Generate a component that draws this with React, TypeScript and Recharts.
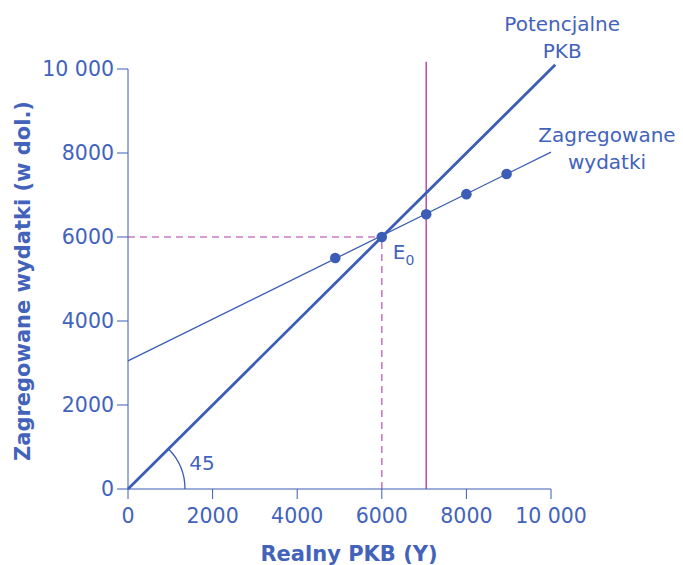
import {
  ComposedChart,
  Customized,
  Line,
  ReferenceDot,
  ReferenceLine,
  Scatter,
  XAxis,
  YAxis,
} from 'recharts';

const BLUE = '#3c5db5';
const TEXT = '#4363bb';
const MAGENTA = '#b44cac';
const MAGENTA_DASH = '#c97bc6';
const FONT = '"DejaVu Sans", sans-serif';

// axis ticks
const xTicks = [0, 2000, 4000, 6000, 8000, 10000];
const yTicks = [0, 2000, 4000, 6000, 8000, 10000];

// 45° line (potential GDP)
const potentialLine = [
  { x: 0, y: 0 },
  { x: 10100, y: 10100 },
];

// aggregate expenditure line + points
const aeLine = [
  { x: 0, y: 3050 },
  { x: 10000, y: 8020 },
];
const aePoints = [
  { x: 4900, y: 5500 },
  { x: 6000, y: 6000 },
  { x: 7050, y: 6540 },
  { x: 8000, y: 7020 },
  { x: 8950, y: 7500 },
];

// equilibrium and potential output
const equilibrium = { x: 6000, y: 6000 };
const potentialY = 7050;
const potentialTop = 10170;

const fmt = (v: number) => (v >= 10000 ? v.toLocaleString('fr-FR').replace(/\u202f|\u00a0/g, ' ') : String(v));

function Titles() {
  return (
    <g fontFamily={FONT} fill={TEXT}>
      <text x={349} y={561} textAnchor="middle" fontSize={21} fontWeight="bold">
        Realny PKB (Y)
      </text>
      <text
        x={0}
        y={0}
        transform="translate(30 281) rotate(-90)"
        textAnchor="middle"
        fontSize={21}
        fontWeight="bold"
      >
        Zagregowane wydatki (w dol.)
      </text>
    </g>
  );
}

function MultiLabel({ viewBox, lines, dx, dy }: any) {
  const cx = (viewBox?.x ?? 0) + dx;
  const cy = (viewBox?.y ?? 0) + dy;
  return (
    <text x={cx} y={cy} textAnchor="middle" fontFamily={FONT} fontSize={20} fill={TEXT}>
      {lines.map((l: string, i: number) => (
        <tspan key={i} x={cx} dy={i === 0 ? 0 : 27}>
          {l}
        </tspan>
      ))}
    </text>
  );
}

export default function App() {
  return (
    <div style={{ position: 'absolute', left: 0, top: 0, width: 683, height: 565, background: '#fff' }}>
      <ComposedChart width={683} height={565} margin={{ top: 69, right: 132, bottom: 36, left: 68 }}>
        <XAxis
          type="number"
          dataKey="x"
          domain={[0, 10000]}
          ticks={xTicks}
          tickFormatter={fmt}
          height={40}
          stroke={BLUE}
          tickSize={10}
          tickMargin={9}
          tick={{ fill: TEXT, fontSize: 20.5, fontFamily: FONT }}
        />
        <YAxis
          type="number"
          dataKey="y"
          domain={[0, 10000]}
          ticks={yTicks}
          tickFormatter={fmt}
          width={60}
          stroke={BLUE}
          tickSize={11}
          tickMargin={3}
          tick={{ fill: TEXT, fontSize: 20.5, fontFamily: FONT }}
        />
        <ReferenceLine
          segment={[{ x: 0, y: equilibrium.y }, equilibrium]}
          stroke={MAGENTA_DASH}
          strokeWidth={1.6}
          strokeDasharray="7 5"
          ifOverflow="visible"
        />
        <ReferenceLine
          segment={[{ x: equilibrium.x, y: 0 }, equilibrium]}
          stroke={MAGENTA_DASH}
          strokeWidth={1.6}
          strokeDasharray="7 5"
          ifOverflow="visible"
        />
        <ReferenceLine
          segment={[
            { x: potentialY, y: 0 },
            { x: potentialY, y: potentialTop },
          ]}
          stroke={MAGENTA}
          strokeWidth={1.5}
          ifOverflow="visible"
        />
        <Line
          data={aeLine}
          dataKey="y"
          type="linear"
          stroke={BLUE}
          strokeWidth={1.3}
          dot={false}
          activeDot={false}
          isAnimationActive={false}
        />
        <ReferenceLine
          segment={potentialLine}
          stroke={BLUE}
          strokeWidth={2.8}
          ifOverflow="visible"
        />
        <Scatter
          data={aePoints}
          dataKey="y"
          fill={BLUE}
          isAnimationActive={false}
          shape={(p: any) => <circle cx={p.cx} cy={p.cy} r={5.3} fill={BLUE} />}
        />
        <ReferenceDot
          x={0}
          y={0}
          ifOverflow="visible"
          shape={(p: any) => (
            <path
              d={`M ${p.cx + 57} ${p.cy} A 57 57 0 0 0 ${p.cx + 40.3} ${p.cy - 40.3}`}
              fill="none"
              stroke={BLUE}
              strokeWidth={1.3}
            />
          )}
          label={(props: any) => <MultiLabel {...props} lines={['45']} dx={84} dy={-9} />}
        />
        <ReferenceDot
          x={equilibrium.x}
          y={equilibrium.y}
          r={0}
          ifOverflow="visible"
          label={(props: any) => (
            <text
              x={props.viewBox.x + 11}
              y={props.viewBox.y + 22}
              fontFamily={FONT}
              fontSize={20}
              fill={TEXT}
            >
              E
              <tspan fontSize={14} dy={6}>
                0
              </tspan>
            </text>
          )}
        />
        <ReferenceDot
          x={potentialLine[1].x}
          y={potentialLine[1].y}
          r={0}
          ifOverflow="visible"
          label={(props: any) => <MultiLabel {...props} lines={['Potencjalne', 'PKB']} dx={7} dy={-34} />}
        />
        <ReferenceDot
          x={aeLine[1].x}
          y={aeLine[1].y}
          r={0}
          ifOverflow="visible"
          label={(props: any) => <MultiLabel {...props} lines={['Zagregowane', 'wydatki']} dx={56} dy={-10} />}
        />
        <Customized component={Titles} />
      </ComposedChart>
    </div>
  );
}
